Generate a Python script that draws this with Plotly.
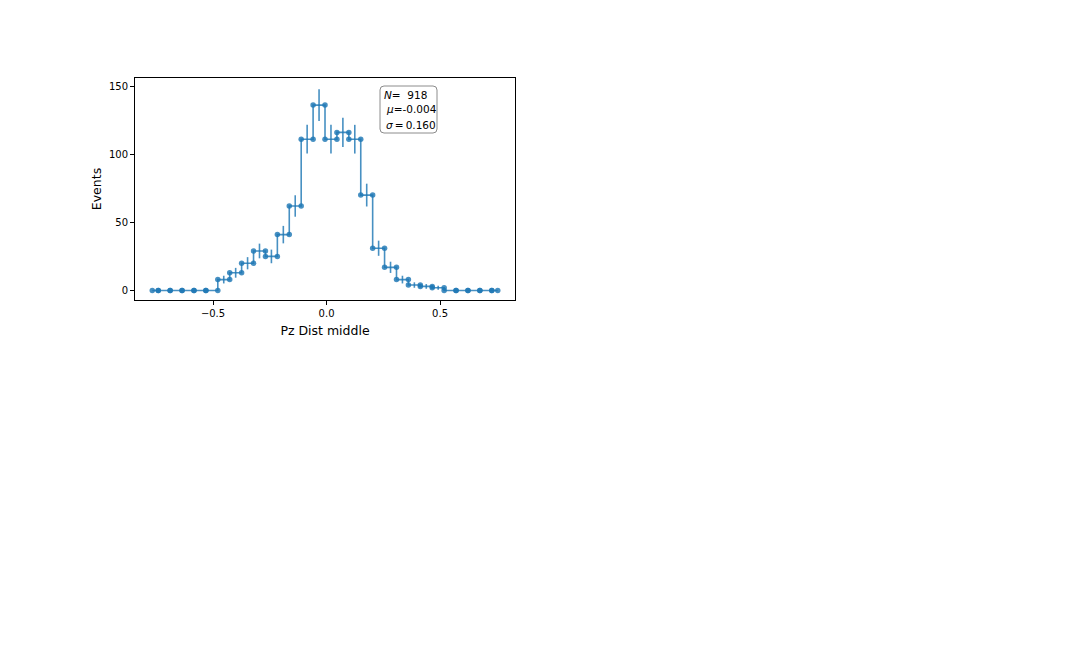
import numpy as np
import plotly.graph_objects as go

# ---- data ----
bin_centers = list(np.round(np.linspace(-0.7675, 0.754, 30), 5))
counts = [0, 0, 0, 0, 0, 0, 8, 13, 20, 29, 25, 41, 62, 111, 136,
          111, 116, 111, 70, 31, 17, 8, 4, 3, 2, 0, 0, 0, 0, 0]
x_ticks = [-0.5, 0.0, 0.5]
x_tick_labels = ["\u22120.5", "0.0", "0.5"]
y_ticks = [0, 50, 100, 150]
y_tick_labels = ["0", "50", "100", "150"]
stats_lines = ["<i>N</i>=\u00a0\u00a0918",
               "<i>\u03bc</i>=-0.004",
               "<i>\u03c3</i>\u2009=\u20090.160"]

errors = [float(np.sqrt(c)) for c in counts]

# steps-mid vertices (matplotlib places markers on the step vertices)
xs = [bin_centers[0]]
ys = [counts[0]]
for i in range(len(counts) - 1):
    m = (bin_centers[i] + bin_centers[i + 1]) / 2
    xs += [m, m]
    ys += [counts[i], counts[i + 1]]
xs.append(bin_centers[-1])
ys.append(counts[-1])

col = "rgba(31,119,180,0.82)"

fig = go.Figure()
fig.add_trace(go.Scatter(
    x=bin_centers, y=counts, mode="markers",
    marker=dict(size=1, color="rgba(0,0,0,0)"),
    error_y=dict(type="data", array=errors, visible=True, width=0,
                 thickness=1.6, color=col),
    showlegend=False, hoverinfo="skip"))
fig.add_trace(go.Scatter(
    x=xs, y=ys, mode="lines+markers",
    line=dict(color=col, width=1.6),
    marker=dict(size=5.5, color=col),
    showlegend=False))

OFF = 8  # page body margin
L, R, T, B = 135, 515, 78, 300  # plot area in page pixels
W, H = 1080, 648


def px(x):
    return (x - L) / (R - L)


def py(y):
    return (B - y) / (B - T)


axis_common = dict(showline=True, linecolor="black", linewidth=1, mirror=True,
                   ticks="outside", ticklen=4, tickwidth=1, tickcolor="black",
                   showgrid=False, zeroline=False,
                   tickfont=dict(family="DejaVu Sans", size=10, color="black"))

# rounded stats box
bx0, bx1, by0, by1, r = 380, 437, 86, 133, 4
rx, ry = r / (R - L), r / (B - T)
X0, X1, Y0, Y1 = px(bx0), px(bx1), py(by1), py(by0)
box_path = (f"M {X0+rx} {Y0} L {X1-rx} {Y0} Q {X1} {Y0} {X1} {Y0+ry} "
            f"L {X1} {Y1-ry} Q {X1} {Y1} {X1-rx} {Y1} "
            f"L {X0+rx} {Y1} Q {X0} {Y1} {X0} {Y1-ry} "
            f"L {X0} {Y0+ry} Q {X0} {Y0} {X0+rx} {Y0} Z")

line_pos = [(382, 95), (384, 109), (384, 125)]
annotations = [dict(text=t, xref="paper", yref="paper", x=px(xp), y=py(yp),
                    xanchor="left", yanchor="middle", align="left",
                    showarrow=False,
                    font=dict(family="DejaVu Sans", size=10.5, color="black"))
               for t, (xp, yp) in zip(stats_lines, line_pos)]

fig.update_layout(
    width=W, height=H,
    margin=dict(l=L - OFF, r=W - R + OFF, t=T - OFF, b=H - B + OFF, pad=0),
    paper_bgcolor="white", plot_bgcolor="white",
    font=dict(family="DejaVu Sans", color="black"),
    xaxis=dict(range=[-0.8436, 0.830], tickvals=x_ticks, ticktext=x_tick_labels,
               title=dict(text="Pz Dist middle", font=dict(size=12.5), standoff=8),
               **axis_common),
    yaxis=dict(range=[-6.97, 155.9], tickvals=y_ticks, ticktext=y_tick_labels,
               title=dict(text="Events", font=dict(size=12.5), standoff=4),
               **axis_common),
    shapes=[dict(type="path", path=box_path, xref="paper", yref="paper",
                 line=dict(color="#8c8c8c", width=1), fillcolor="white",
                 layer="above")],
    annotations=annotations,
)

fig.write_html("out.html")
